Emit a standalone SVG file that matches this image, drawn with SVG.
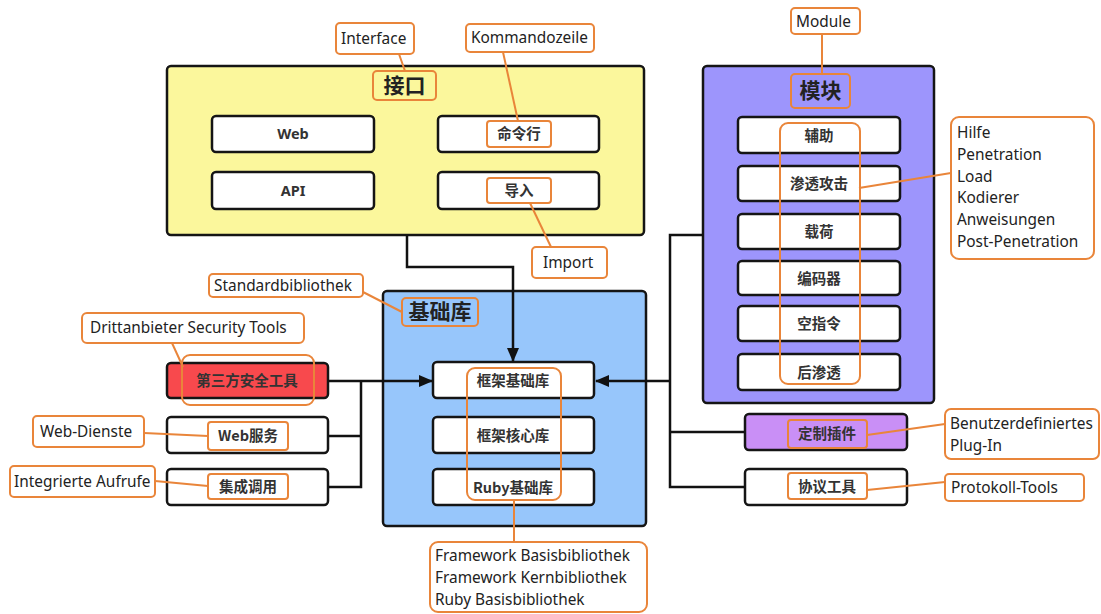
<svg xmlns="http://www.w3.org/2000/svg" width="1101" height="614" viewBox="0 0 1101 614">
<defs>
<marker id="arr" markerWidth="14" markerHeight="12" refX="13" refY="6" orient="auto" markerUnits="userSpaceOnUse">
<path d="M0,0 L14,6 L0,12 Z" fill="#111"/>
</marker>
<style>
.box{stroke:#151515;stroke-width:2.5;}
.w{fill:#fff;}
.cn{font-family:"Noto Sans CJK SC","Noto Sans",sans-serif;font-weight:bold;font-size:14.5px;fill:#333;text-anchor:middle;}
.big{font-family:"Noto Sans CJK SC",sans-serif;font-weight:bold;font-size:21px;fill:#222;text-anchor:middle;}
.en{font-family:"Noto Sans","Open Sans",sans-serif;font-size:15.4px;fill:#222;}
.enb{font-family:"Noto Sans",sans-serif;font-weight:bold;font-size:14.5px;fill:#333;text-anchor:middle;}
.or{fill:none;stroke:#e9853a;stroke-width:2;}
.orw{fill:#fff;stroke:#e9853a;stroke-width:2;}
.ol{stroke:#e9853a;stroke-width:2;fill:none;}
.con{stroke:#111;stroke-width:2.5;fill:none;}
</style>
</defs>
<rect width="1101" height="614" fill="#fff"/>

<g id="interface">
<rect class="box" x="167" y="66" width="477" height="169" rx="4" fill="#fbf79c"/>
<rect class="or" x="373" y="71" width="63" height="29" rx="4"/>
<text class="big" x="404.5" y="93">接口</text>
</g>
<g id="web"><rect class="box w" x="212" y="116" width="162" height="36" rx="4"/><text class="enb" x="293" y="139">Web</text></g>
<g id="api"><rect class="box w" x="212" y="172" width="162" height="37" rx="4"/><text class="enb" x="293" y="196">API</text></g>
<g id="cmd"><rect class="box w" x="438" y="116" width="161" height="36" rx="4"/><rect class="or" x="487" y="121" width="64" height="26" rx="3"/><text class="cn" x="519" y="139">命令行</text></g>
<g id="import"><rect class="box w" x="438" y="172" width="161" height="37" rx="4"/><rect class="or" x="487" y="178" width="64" height="25" rx="3"/><text class="cn" x="519" y="196">导入</text></g>

<g id="base">
<rect class="box" x="383" y="291" width="263" height="235" rx="4" fill="#97c6fb"/>
<rect class="or" x="402" y="298" width="76" height="28" rx="4"/>
<text class="big" x="440" y="319">基础库</text>
</g>
<g id="fwbase"><rect class="box w" x="433" y="362" width="161" height="36" rx="4"/><text class="cn" x="513" y="386">框架基础库</text></g>
<g id="fwcore"><rect class="box w" x="433" y="417" width="161" height="36" rx="4"/><text class="cn" x="513" y="441">框架核心库</text></g>
<g id="ruby"><rect class="box w" x="433" y="469" width="161" height="36" rx="4"/><text class="cn" x="513" y="493">Ruby基础库</text></g>
<rect class="or" x="467" y="368" width="94" height="132" rx="8"/>

<g id="thirdparty"><rect class="box" x="167" y="363" width="161" height="35" rx="4" fill="#f8494d"/><rect class="or" x="182" y="355" width="132" height="50" rx="8"/><text class="cn" x="247" y="386">第三方安全工具</text></g>
<g id="webservice"><rect class="box w" x="167" y="417" width="161" height="36" rx="4"/><rect class="or" x="208" y="422" width="80" height="28" rx="3"/><text class="cn" x="248" y="441">Web服务</text></g>
<g id="integration"><rect class="box w" x="167" y="469" width="161" height="36" rx="4"/><rect class="or" x="208" y="474" width="80" height="25" rx="3"/><text class="cn" x="248" y="492">集成调用</text></g>

<g id="modules">
<rect class="box" x="703" y="66" width="231" height="337" rx="4" fill="#9d95fc"/>
<rect class="or" x="791" y="74" width="59" height="34" rx="4"/>
<text class="big" x="820.5" y="98">模块</text>
</g>
<g id="aux"><rect class="box w" x="738" y="117" width="162" height="36" rx="4"/><text class="cn" x="819" y="141">辅助</text></g>
<g id="exploit"><rect class="box w" x="738" y="166" width="162" height="35" rx="4"/><text class="cn" x="819" y="189">渗透攻击</text></g>
<g id="payload"><rect class="box w" x="738" y="214" width="162" height="35" rx="4"/><text class="cn" x="819" y="237">载荷</text></g>
<g id="encoder"><rect class="box w" x="738" y="261" width="162" height="34" rx="4"/><text class="cn" x="819" y="284">编码器</text></g>
<g id="nop"><rect class="box w" x="738" y="306" width="162" height="35" rx="4"/><text class="cn" x="819" y="329">空指令</text></g>
<g id="post"><rect class="box w" x="738" y="354" width="162" height="36" rx="4"/><text class="cn" x="819" y="378">后渗透</text></g>
<rect class="or" x="780" y="123" width="80" height="261" rx="8"/>

<g id="plugin"><rect class="box" x="745" y="414" width="162" height="36" rx="4" fill="#c98ff6"/><rect class="or" x="788" y="420" width="79" height="28" rx="3"/><text class="cn" x="827" y="439">定制插件</text></g>
<g id="protocol"><rect class="box w" x="745" y="469" width="162" height="36" rx="4"/><rect class="or" x="788" y="473" width="79" height="26" rx="3"/><text class="cn" x="827" y="492">协议工具</text></g>

<g id="connectors">
<polyline class="con" points="407,235 407,267 513,267 513,361" marker-end="url(#arr)"/>
<line class="con" x1="328" y1="381" x2="432" y2="381" marker-end="url(#arr)"/>
<polyline class="con" points="328,436 361,436"/>
<polyline class="con" points="328,487 361,487 361,381"/>
<polyline class="con" points="703,235 670,235 670,487 745,487"/>
<line class="con" x1="670" y1="432" x2="745" y2="432"/>
<line class="con" x1="670" y1="381" x2="596" y2="381" marker-end="url(#arr)"/>
</g>

<g id="callouts">
<line class="ol" x1="399" y1="54" x2="405" y2="71"/>
<rect class="orw" x="336" y="23" width="78" height="31" rx="4"/>
<text class="en" x="341" y="44">Interface</text>

<line class="ol" x1="503" y1="52" x2="518" y2="121"/>
<rect class="orw" x="466" y="24" width="128" height="28" rx="4"/>
<text class="en" x="471" y="43">Kommandozeile</text>

<line class="ol" x1="530" y1="203" x2="551" y2="247"/>
<rect class="orw" x="532" y="247" width="75" height="31" rx="4"/>
<text class="en" x="543" y="268">Import</text>

<line class="ol" x1="822" y1="34" x2="822" y2="74"/>
<rect class="orw" x="791" y="8" width="69" height="26" rx="4"/>
<text class="en" x="796" y="27">Module</text>

<line class="ol" x1="859" y1="188" x2="951" y2="173"/>
<rect class="orw" x="951" y="117" width="143" height="142" rx="8"/>
<text class="en" x="957" y="138">Hilfe</text>
<text class="en" x="957" y="160">Penetration</text>
<text class="en" x="957" y="182">Load</text>
<text class="en" x="957" y="203">Kodierer</text>
<text class="en" x="957" y="225">Anweisungen</text>
<text class="en" x="957" y="247">Post-Penetration</text>

<line class="ol" x1="867" y1="435" x2="945" y2="424"/>
<rect class="orw" x="945" y="409" width="154" height="50" rx="6"/>
<text class="en" x="950" y="429">Benutzerdefiniertes</text>
<text class="en" x="950" y="451">Plug-In</text>

<line class="ol" x1="867" y1="490" x2="945" y2="482"/>
<rect class="orw" x="945" y="474" width="139" height="27" rx="4"/>
<text class="en" x="951" y="493">Protokoll-Tools</text>

<line class="ol" x1="363" y1="292" x2="402" y2="312"/>
<rect class="orw" x="209" y="274" width="154" height="23" rx="4"/>
<text class="en" x="214" y="291">Standardbibliothek</text>

<line class="ol" x1="172" y1="343" x2="183" y2="367"/>
<rect class="orw" x="82" y="313" width="222" height="30" rx="5"/>
<text class="en" x="90" y="333">Drittanbieter Security Tools</text>

<line class="ol" x1="144" y1="433" x2="208" y2="436"/>
<rect class="orw" x="33" y="416" width="111" height="31" rx="4"/>
<text class="en" x="40" y="437">Web-Dienste</text>

<line class="ol" x1="155" y1="481" x2="208" y2="486"/>
<rect class="orw" x="10" y="466" width="145" height="31" rx="4"/>
<text class="en" x="14" y="487">Integrierte Aufrufe</text>

<line class="ol" x1="514" y1="500" x2="514" y2="542"/>
<rect class="orw" x="430" y="542" width="217" height="70" rx="8"/>
<text class="en" x="435" y="561">Framework Basisbibliothek</text>
<text class="en" x="435" y="583">Framework Kernbibliothek</text>
<text class="en" x="435" y="605">Ruby Basisbibliothek</text>
</g>
</svg>
